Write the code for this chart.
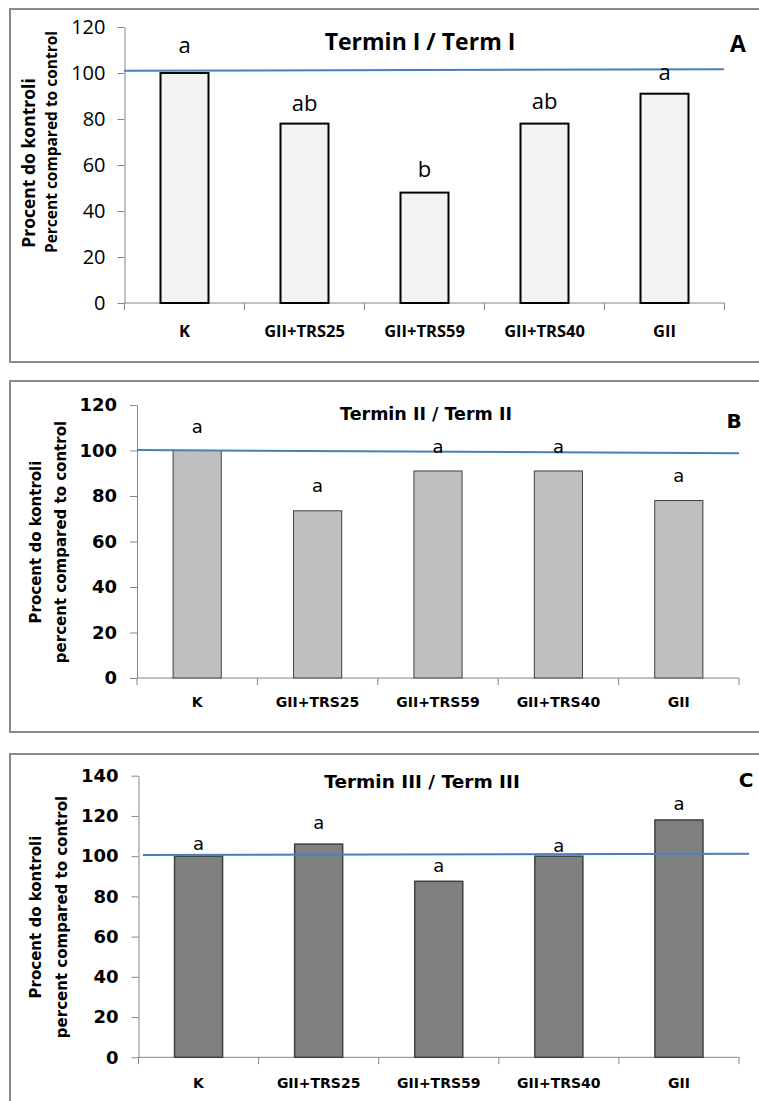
<!DOCTYPE html>
<html>
<head>
<meta charset="utf-8">
<script src="https://cdn.jsdelivr.net/npm/d3@7"></script>
<style>
  body { margin: 0; background: #fff; }
  svg { display: block; }
</style>
</head>
<body>
<div id="chart"></div>
<script>
// Data
const categories = ["K", "GII+TRS25", "GII+TRS59", "GII+TRS40", "GII"];

const valuesA = [100, 78, 48, 78, 91];
const valuesB = [100, 73.5, 91, 91, 78];
const valuesC = [100, 106, 87.5, 100, 118];

const lettersA = ["a", "ab", "b", "ab", "a"];
const lettersB = ["a", "a", "a", "a", "a"];
const lettersC = ["a", "a", "a", "a", "a"];

const ticksA = [0, 20, 40, 60, 80, 100, 120];
const ticksB = [0, 20, 40, 60, 80, 100, 120];
const ticksC = [0, 20, 40, 60, 80, 100, 120, 140];

// blue control line, value at left end and right end
const refA = [101, 101.6];
const refB = [100.2, 98.8];
const refC = [100.6, 101.2];

const yTitle1 = "Procent do kontroli";
const yTitleA = "Percent compared to control";
const yTitleBC = "percent compared to control";

// Layout
const svg = d3
  .select("#chart")
  .append("svg")
  .attr("width", 759)
  .attr("height", 1101);

const panels = [
  {
    values: valuesA, letters: lettersA, ticks: ticksA, yMax: 120,
    title: "Termin I / Term I", tag: "A", yTitle: [yTitle1, yTitleA],
    frame: [10, 9, 770, 362],
    x0: 124.5, x1: 724.5, yBottom: 303, yTop: 27,
    font: "Open Sans",
    tickSize: 20, tickWeight: 400, tickPad: 12,
    catSize: 16.5, catBase: 337,
    titleSize: 23, titleX: 420, titleY: 50,
    tagSize: 23, tagX: 738, tagY: 52,
    yTitleSize: [17.5, 15.5], yTitleX: [35, 57], yTitleY: [163, 142],
    letterSize: 22, letterGap: [20, 13, 16, 15, 14],
    fill: "#f2f2f2", stroke: "#000", strokeW: 2,
    ref: refA, refX: [124, 724],
  },
  {
    values: valuesB, letters: lettersB, ticks: ticksB, yMax: 120,
    title: "Termin II / Term II", tag: "B", yTitle: [yTitle1, yTitleBC],
    frame: [10, 381, 770, 732],
    x0: 137, x1: 739, yBottom: 678, yTop: 405,
    font: "DejaVu Sans",
    tickSize: 18, tickWeight: 700, tickPad: 13,
    catSize: 14, catBase: 707,
    titleSize: 17.5, titleX: 426, titleY: 420,
    tagSize: 20, tagX: 734, tagY: 428,
    yTitleSize: [15, 15], yTitleX: [41, 66], yTitleY: [542, 542],
    letterSize: 18, letterGap: [18, 19, 18, 18, 19],
    fill: "#bfbfbf", stroke: "#404040", strokeW: 1,
    ref: refB, refX: [137, 739],
  },
  {
    values: valuesC, letters: lettersC, ticks: ticksC, yMax: 140,
    title: "Termin III / Term III", tag: "C", yTitle: [yTitle1, yTitleBC],
    frame: [10, 754, 770, 1120],
    x0: 138.5, x1: 739, yBottom: 1057.3, yTop: 775.7,
    font: "DejaVu Sans",
    tickSize: 18, tickWeight: 700, tickPad: 13,
    catSize: 14, catBase: 1088,
    titleSize: 18.5, titleX: 422, titleY: 788,
    tagSize: 20, tagX: 746, tagY: 787,
    yTitleSize: [15, 15], yTitleX: [41, 67], yTitleY: [917, 917],
    letterSize: 18, letterGap: [6, 15, 9, 4, 10],
    fill: "#808080", stroke: "#404040", strokeW: 1.5,
    ref: refC, refX: [143, 749],
  },
];

const axisColor = "#868686";

function drawPanel(p) {
  const g = svg.append("g").style("font-family", p.font);

  // frame
  g.append("rect")
    .attr("x", p.frame[0])
    .attr("y", p.frame[1])
    .attr("width", p.frame[2] - p.frame[0])
    .attr("height", p.frame[3] - p.frame[1])
    .attr("fill", "none")
    .attr("stroke", "#8a8a8a")
    .attr("stroke-width", 2);

  // scales
  const xScale = d3
    .scaleBand()
    .domain(categories)
    .range([p.x0, p.x1])
    .paddingInner(0.6)
    .paddingOuter(0.3);

  const yScale = d3
    .scaleLinear()
    .domain([0, p.yMax])
    .range([p.yBottom, p.yTop]);

  // y axis
  const leftAxis = d3
    .axisLeft(yScale)
    .tickValues(p.ticks)
    .tickSize(7)
    .tickPadding(p.tickPad)
    .tickSizeOuter(0);

  const yAxisGroup = g
    .append("g")
    .attr("transform", `translate(${p.x0}, 0)`)
    .call(leftAxis);

  yAxisGroup.selectAll("path, line").attr("stroke", axisColor);
  yAxisGroup
    .selectAll("text")
    .attr("fill", "#000")
    .style("font-family", p.font)
    .style("font-size", p.tickSize + "px")
    .style("font-weight", p.tickWeight);

  // x axis: line with ticks on category boundaries
  const step = xScale.step();
  const edges = categories.map((c) => xScale(c) - step * xScale.paddingOuter());
  edges.push(p.x1);

  g.append("line")
    .attr("x1", p.x0)
    .attr("x2", p.x1)
    .attr("y1", p.yBottom)
    .attr("y2", p.yBottom)
    .attr("stroke", axisColor);

  g.append("g")
    .selectAll("line")
    .data(edges)
    .join("line")
    .attr("x1", (d) => d)
    .attr("x2", (d) => d)
    .attr("y1", p.yBottom)
    .attr("y2", p.yBottom + 7)
    .attr("stroke", axisColor);

  g.append("g")
    .selectAll("text")
    .data(categories)
    .join("text")
    .attr("x", (d) => xScale(d) + xScale.bandwidth() / 2)
    .attr("y", p.catBase)
    .attr("text-anchor", "middle")
    .style("font-size", p.catSize + "px")
    .style("font-weight", 700)
    .text((d) => d);

  // bars
  g.append("g")
    .selectAll("rect")
    .data(p.values)
    .join("rect")
    .attr("x", (d, i) => xScale(categories[i]))
    .attr("y", (d) => yScale(d))
    .attr("width", xScale.bandwidth())
    .attr("height", (d) => p.yBottom - yScale(d))
    .attr("fill", p.fill)
    .attr("stroke", p.stroke)
    .attr("stroke-width", p.strokeW);

  // control line
  g.append("line")
    .attr("x1", p.refX[0])
    .attr("x2", p.refX[1])
    .attr("y1", yScale(p.ref[0]))
    .attr("y2", yScale(p.ref[1]))
    .attr("stroke", "#4a7ebb")
    .attr("stroke-width", 2);

  // significance letters
  g.append("g")
    .selectAll("text")
    .data(p.letters)
    .join("text")
    .attr("x", (d, i) => xScale(categories[i]) + xScale.bandwidth() / 2)
    .attr("y", (d, i) => yScale(p.values[i]) - p.letterGap[i])
    .attr("text-anchor", "middle")
    .style("font-size", p.letterSize + "px")
    .text((d) => d);

  // title and tag
  g.append("text")
    .attr("x", p.titleX)
    .attr("y", p.titleY)
    .attr("text-anchor", "middle")
    .style("font-size", p.titleSize + "px")
    .style("font-weight", 700)
    .text(p.title);

  g.append("text")
    .attr("x", p.tagX)
    .attr("y", p.tagY)
    .attr("text-anchor", "middle")
    .style("font-size", p.tagSize + "px")
    .style("font-weight", 700)
    .text(p.tag);

  // y axis title, two lines
  p.yTitle.forEach((line, i) => {
    g.append("text")
      .attr("transform", `translate(${p.yTitleX[i]}, ${p.yTitleY[i]}) rotate(-90)`)
      .attr("text-anchor", "middle")
      .style("font-size", p.yTitleSize[i] + "px")
      .style("font-weight", 700)
      .text(line);
  });
}

panels.forEach(drawPanel);
</script>
</body>
</html>
